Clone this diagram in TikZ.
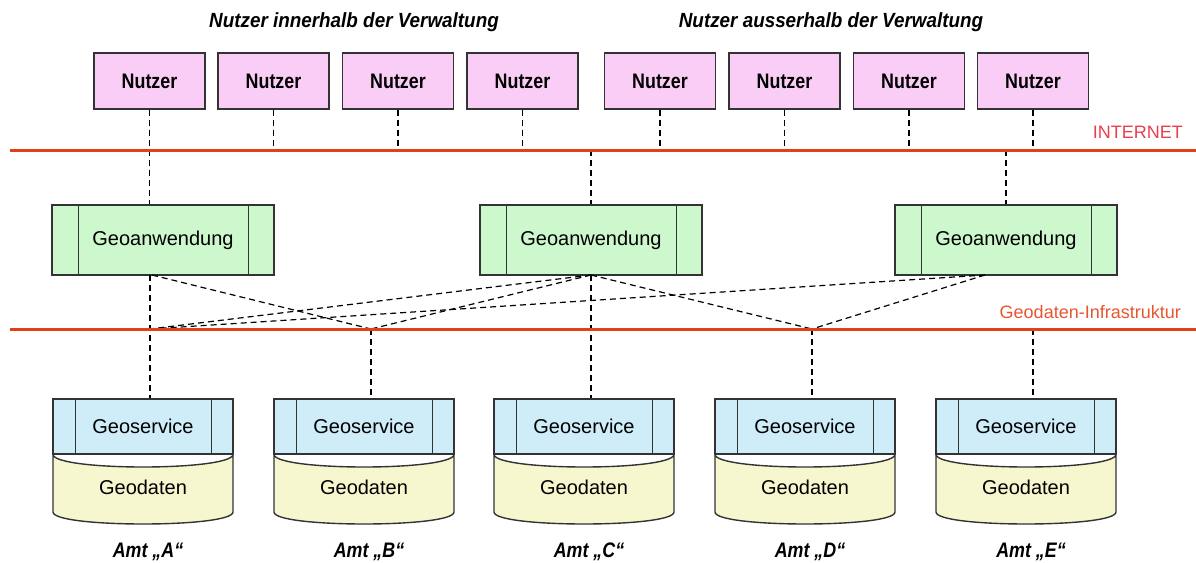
\documentclass[tikz,border=0pt]{standalone}
\usepackage{fontspec}
\setmainfont{Liberation Sans}
\newfontfamily\condA{Liberation Sans}[FakeStretch=0.85]
\newfontfamily\condB{Liberation Sans}[FakeStretch=0.92]
\definecolor{pinkfill}{HTML}{F9CDF5}
\definecolor{greenfill}{HTML}{CDF7CD}
\definecolor{bluefill}{HTML}{CFEDF8}
\definecolor{yellowfill}{HTML}{F7F7CF}
\definecolor{netred}{HTML}{E0401A}
\definecolor{inettext}{HTML}{E64050}
\definecolor{gditext}{HTML}{E8552E}
\definecolor{edge}{HTML}{333333}
\begin{document}
\begin{tikzpicture}[x=1pt,y=-1pt,
  box/.style={draw=edge, line width=1.4pt, inner sep=0pt},
  nutzer/.style={box, fill=pinkfill, minimum width=111pt, minimum height=56pt, font=\condA\fontsize{21}{23}\selectfont\bfseries},
  geoa/.style={box, fill=greenfill, minimum width=222pt, minimum height=70pt, font=\fontsize{20}{22}\selectfont},
  geos/.style={box, fill=bluefill, minimum width=180pt, minimum height=55pt, font=\fontsize{20}{22}\selectfont},
  cyl/.style={draw=edge, line width=1.4pt, fill=yellowfill},
  plain/.style={inner sep=0pt, font=\fontsize{20}{22}\selectfont},
  amt/.style={inner sep=0pt, font=\condA\fontsize{21}{23}\selectfont\bfseries\itshape},
  title/.style={inner sep=0pt, font=\condB\fontsize{20.5}{23}\selectfont\bfseries\itshape},
  netlabel/.style={inner sep=0pt, anchor=east, font=\fontsize{18}{20}\selectfont},
  conn/.style={draw=black, line width=1.2pt, dash pattern=on 6pt off 4pt},
  net/.style={draw=netred, line width=3pt},
  inner/.style={draw=edge, line width=1.4pt}
]
\useasboundingbox (0,0) rectangle (1196,562);

% titles
\node[title] (T1) at (354,22) {Nutzer innerhalb der Verwaltung};
\node[title] (T2) at (831,22) {Nutzer ausserhalb der Verwaltung};

% network lines
\coordinate (inetL) at (10,150);
\coordinate (inetR) at (1196,150);
\coordinate (gdiL) at (10,329);
\coordinate (gdiR) at (1196,329);

% Nutzer
\node[nutzer] (N1) at (149.5,81) {Nutzer};
\node[nutzer] (N2) at (273.5,81) {Nutzer};
\node[nutzer] (N3) at (398,81) {Nutzer};
\node[nutzer] (N4) at (522.5,81) {Nutzer};
\node[nutzer] (N5) at (660,81) {Nutzer};
\node[nutzer] (N6) at (784.5,81) {Nutzer};
\node[nutzer] (N7) at (909,81) {Nutzer};
\node[nutzer] (N8) at (1033,81) {Nutzer};

% Geoanwendungen
\node[geoa] (G1) at (163,240) {Geoanwendung};
\node[geoa] (G2) at (591,240) {Geoanwendung};
\node[geoa] (G3) at (1006,240) {Geoanwendung};
\foreach \g in {G1,G2,G3} {
  \draw[inner] ([xshift=27pt]\g.north west) -- ([xshift=27pt]\g.south west);
  \draw[inner] ([xshift=-26pt]\g.north east) -- ([xshift=-26pt]\g.south east);
}

% junctions on the infrastructure line
\coordinate (jA) at (150,329);
\coordinate (jB) at (371,329);
\coordinate (jC) at (591,329);
\coordinate (jD) at (812,329);
\coordinate (jE) at (1033,329);
\coordinate (g1b) at (150,275);
\coordinate (g1d) at (152,275);
\coordinate (g2b) at (591,275);
\coordinate (g3b) at (985,275);

% Geodaten cylinders and Geoservices
\foreach \n/\L in {A/53,B/274,C/494,D/715,E/936} {
  \path[cyl] (\L,455) .. controls (\L+6,471) and (\L+174,471) .. (\L+180,455)
     -- (\L+180,512) .. controls (\L+180,528) and (\L,528) .. (\L,512) -- cycle;
  \node[plain] (D\n) at (\L+90,487) {Geodaten};
  \node[geos] (S\n) at (\L+90,426.5) {Geoservice};
  \draw[inner] ([xshift=23pt]S\n.north west) -- ([xshift=23pt]S\n.south west);
  \draw[inner] ([xshift=-22pt]S\n.north east) -- ([xshift=-22pt]S\n.south east);
}

% Amt labels
\node[amt] (LA) at (148,552) {Amt „A“};
\node[amt] (LB) at (369,552) {Amt „B“};
\node[amt] (LC) at (589,552) {Amt „C“};
\node[amt] (LD) at (810,552) {Amt „D“};
\node[amt] (LE) at (1031,552) {Amt „E“};

% Nutzer to INTERNET
\foreach \k in {N2,N3,N4,N5,N6,N7,N8} {
  \draw[conn] (\k.south) -- (\k.south |- inetL);
}
\draw[conn] (N1.south) -- (N1.south |- G1.north);
\draw[conn] (G2.north |- inetL) -- (G2.north);
\draw[conn] (G3.north |- inetL) -- (G3.north);

% Geoanwendung to Geodaten-Infrastruktur
\draw[conn] (g1b) -- (jA |- SA.north);
\draw[conn] (g2b) -- (jC |- SC.north);
\draw[conn] (jB) -- (jB |- SB.north);
\draw[conn] (jD) -- (jD |- SD.north);
\draw[conn] (jE) -- (jE |- SE.north);
\draw[conn] (g1d) -- (jB);
\draw[conn] (g2b) -- (jA);
\draw[conn] (g2b) -- (jB);
\draw[conn] (g2b) -- (jD);
\draw[conn] (g3b) -- (jA);
\draw[conn] (g3b) -- (jD);

% network lines on top
\draw[net] (inetL) -- (inetR);
\draw[net] (gdiL) -- (gdiR);
\node[netlabel, text=inettext] (INET) at (1183,132) {INTERNET};
\node[netlabel, text=gditext] (GDI) at (1181,312) {Geodaten-Infrastruktur};
\end{tikzpicture}
\end{document}
